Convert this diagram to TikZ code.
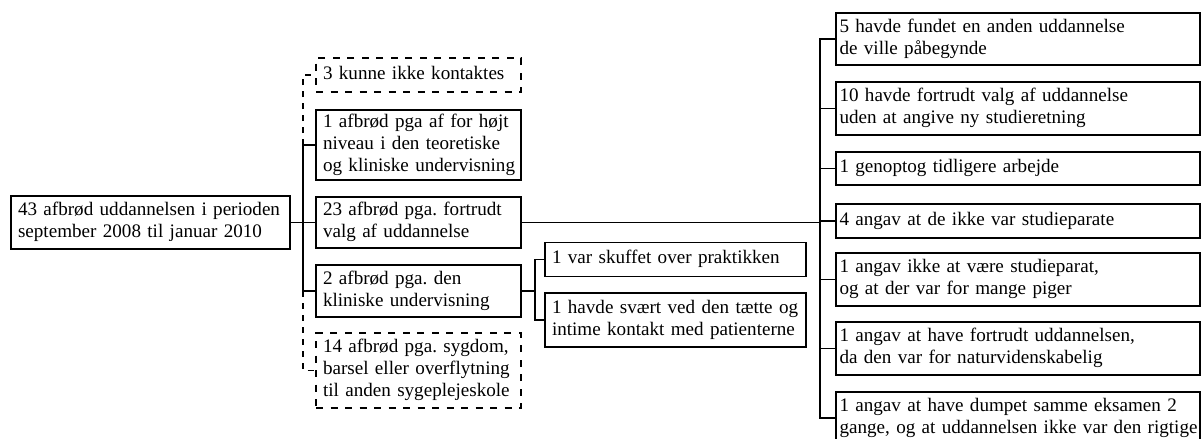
\documentclass[tikz,border=0pt]{standalone}
\usepackage{fontspec}
\setmainfont{Liberation Serif}
\begin{document}
\frenchspacing
\begin{tikzpicture}[x=1pt,y=-1pt,
  every node/.style={font=\fontsize{19.1}{22}\selectfont},
  bx/.style={draw, line width=1.7pt, inner xsep=7pt, inner ysep=0pt, align=left},
  rbx/.style={bx, inner xsep=3.5pt},
  dbx/.style={bx, dash pattern=on 7pt off 7.5pt},
  link/.style={line width=1.7pt},
  dlink/.style={line width=1.7pt, dash pattern=on 6pt off 6pt}]
\useasboundingbox (0,0) rectangle (1203,439);
\newcommand\tb[1]{\begin{tabular}{@{}l@{}}#1\end{tabular}}

% trunks
\coordinate (tk) at (303,0);
\coordinate (st) at (535,0);
\coordinate (rt) at (820,0);

% root
\node[bx, text width=265pt, minimum height=53pt] (root) at (150.5,222.5)
  {\tb{43 afbrød uddannelsen i perioden\\september 2008 til januar 2010}};

% middle column
\node[dbx, text width=191pt, minimum height=34pt] (m0) at (418.5,75)
  {\tb{3 kunne ikke kontaktes}};
\node[bx, text width=191pt, minimum height=70pt] (m1) at (418.5,145)
  {\tb{1 afbrød pga af for højt\\niveau i den teoretiske\\og kliniske undervisning}};
\node[bx, text width=191pt, minimum height=51pt] (m2) at (418.5,222.5)
  {\tb{23 afbrød pga. fortrudt\\valg af uddannelse}};
\node[bx, text width=191pt, minimum height=52pt] (m3) at (418.5,291)
  {\tb{2 afbrød pga. den\\kliniske undervisning}};
\node[dbx, text width=191pt, minimum height=75pt] (m4) at (418.5,370.5)
  {\tb{14 afbrød pga. sygdom,\\barsel eller overflytning\\til anden sygeplejeskole}};

% clinical sub-branch
\node[bx, text width=247pt, minimum height=34pt] (s1) at (675.5,259.5)
  {\tb{1 var skuffet over praktikken}};
\node[bx, text width=247pt, minimum height=54pt] (s2) at (675.5,320)
  {\tb{1 havde svært ved den tætte og\\intime kontakt med patienterne}};

% right column
\node[rbx, text width=357pt, minimum height=52pt] (r1) at (1018,39)
  {\tb{5 havde fundet en anden uddannelse\\de ville påbegynde}};
\node[rbx, text width=357pt, minimum height=53pt] (r2) at (1018,108.5)
  {\tb{10 havde fortrudt valg af uddannelse\\uden at angive ny studieretning}};
\node[rbx, text width=357pt, minimum height=33pt] (r3) at (1018,168.5)
  {\tb{1 genoptog tidligere arbejde}};
\node[rbx, text width=357pt, minimum height=34pt] (r4) at (1018,221)
  {\tb{4 angav at de ikke var studieparate}};
\node[rbx, text width=357pt, minimum height=53pt] (r5) at (1018,279.5)
  {\tb{1 angav ikke at være studieparat,\\og at der var for mange piger}};
\node[rbx, text width=357pt, minimum height=53pt] (r6) at (1018,348.5)
  {\tb{1 angav at have fortrudt uddannelsen,\\da den var for naturvidenskabelig}};
\node[rbx, text width=357pt, minimum height=52pt] (r7) at (1018,418)
  {\tb{1 angav at have dumpet samme eksamen 2\\gange, og at uddannelsen ikke var den rigtige}};

% connectors: root to middle column
\draw[link] (root.east) -- (m2.west);
\draw[link] (m1.west) -- (m1.west -| tk) -- (m3.west -| tk) -- (m3.west);
\draw[dlink] (m1.west -| tk) |- (m0.west);
\draw[dlink] (m3.west -| tk) |- (m4.west);

% clinical branch
\draw[link] (m3.east) -- (m3.east -| st);
\draw[link] (s1.west) -- (s1.west -| st) -- (s2.west -| st) -- (s2.west);

% regret branch
\draw[link] (m2.east) -- (m2.east -| rt);
\draw[link] (r1.west) -- (r1.west -| rt) -- (r7.west -| rt) -- (r7.west);
\foreach \n in {r2,r3,r4,r5,r6}
  \draw[link] (\n.west) -- (\n.west -| rt);
\end{tikzpicture}
\end{document}
